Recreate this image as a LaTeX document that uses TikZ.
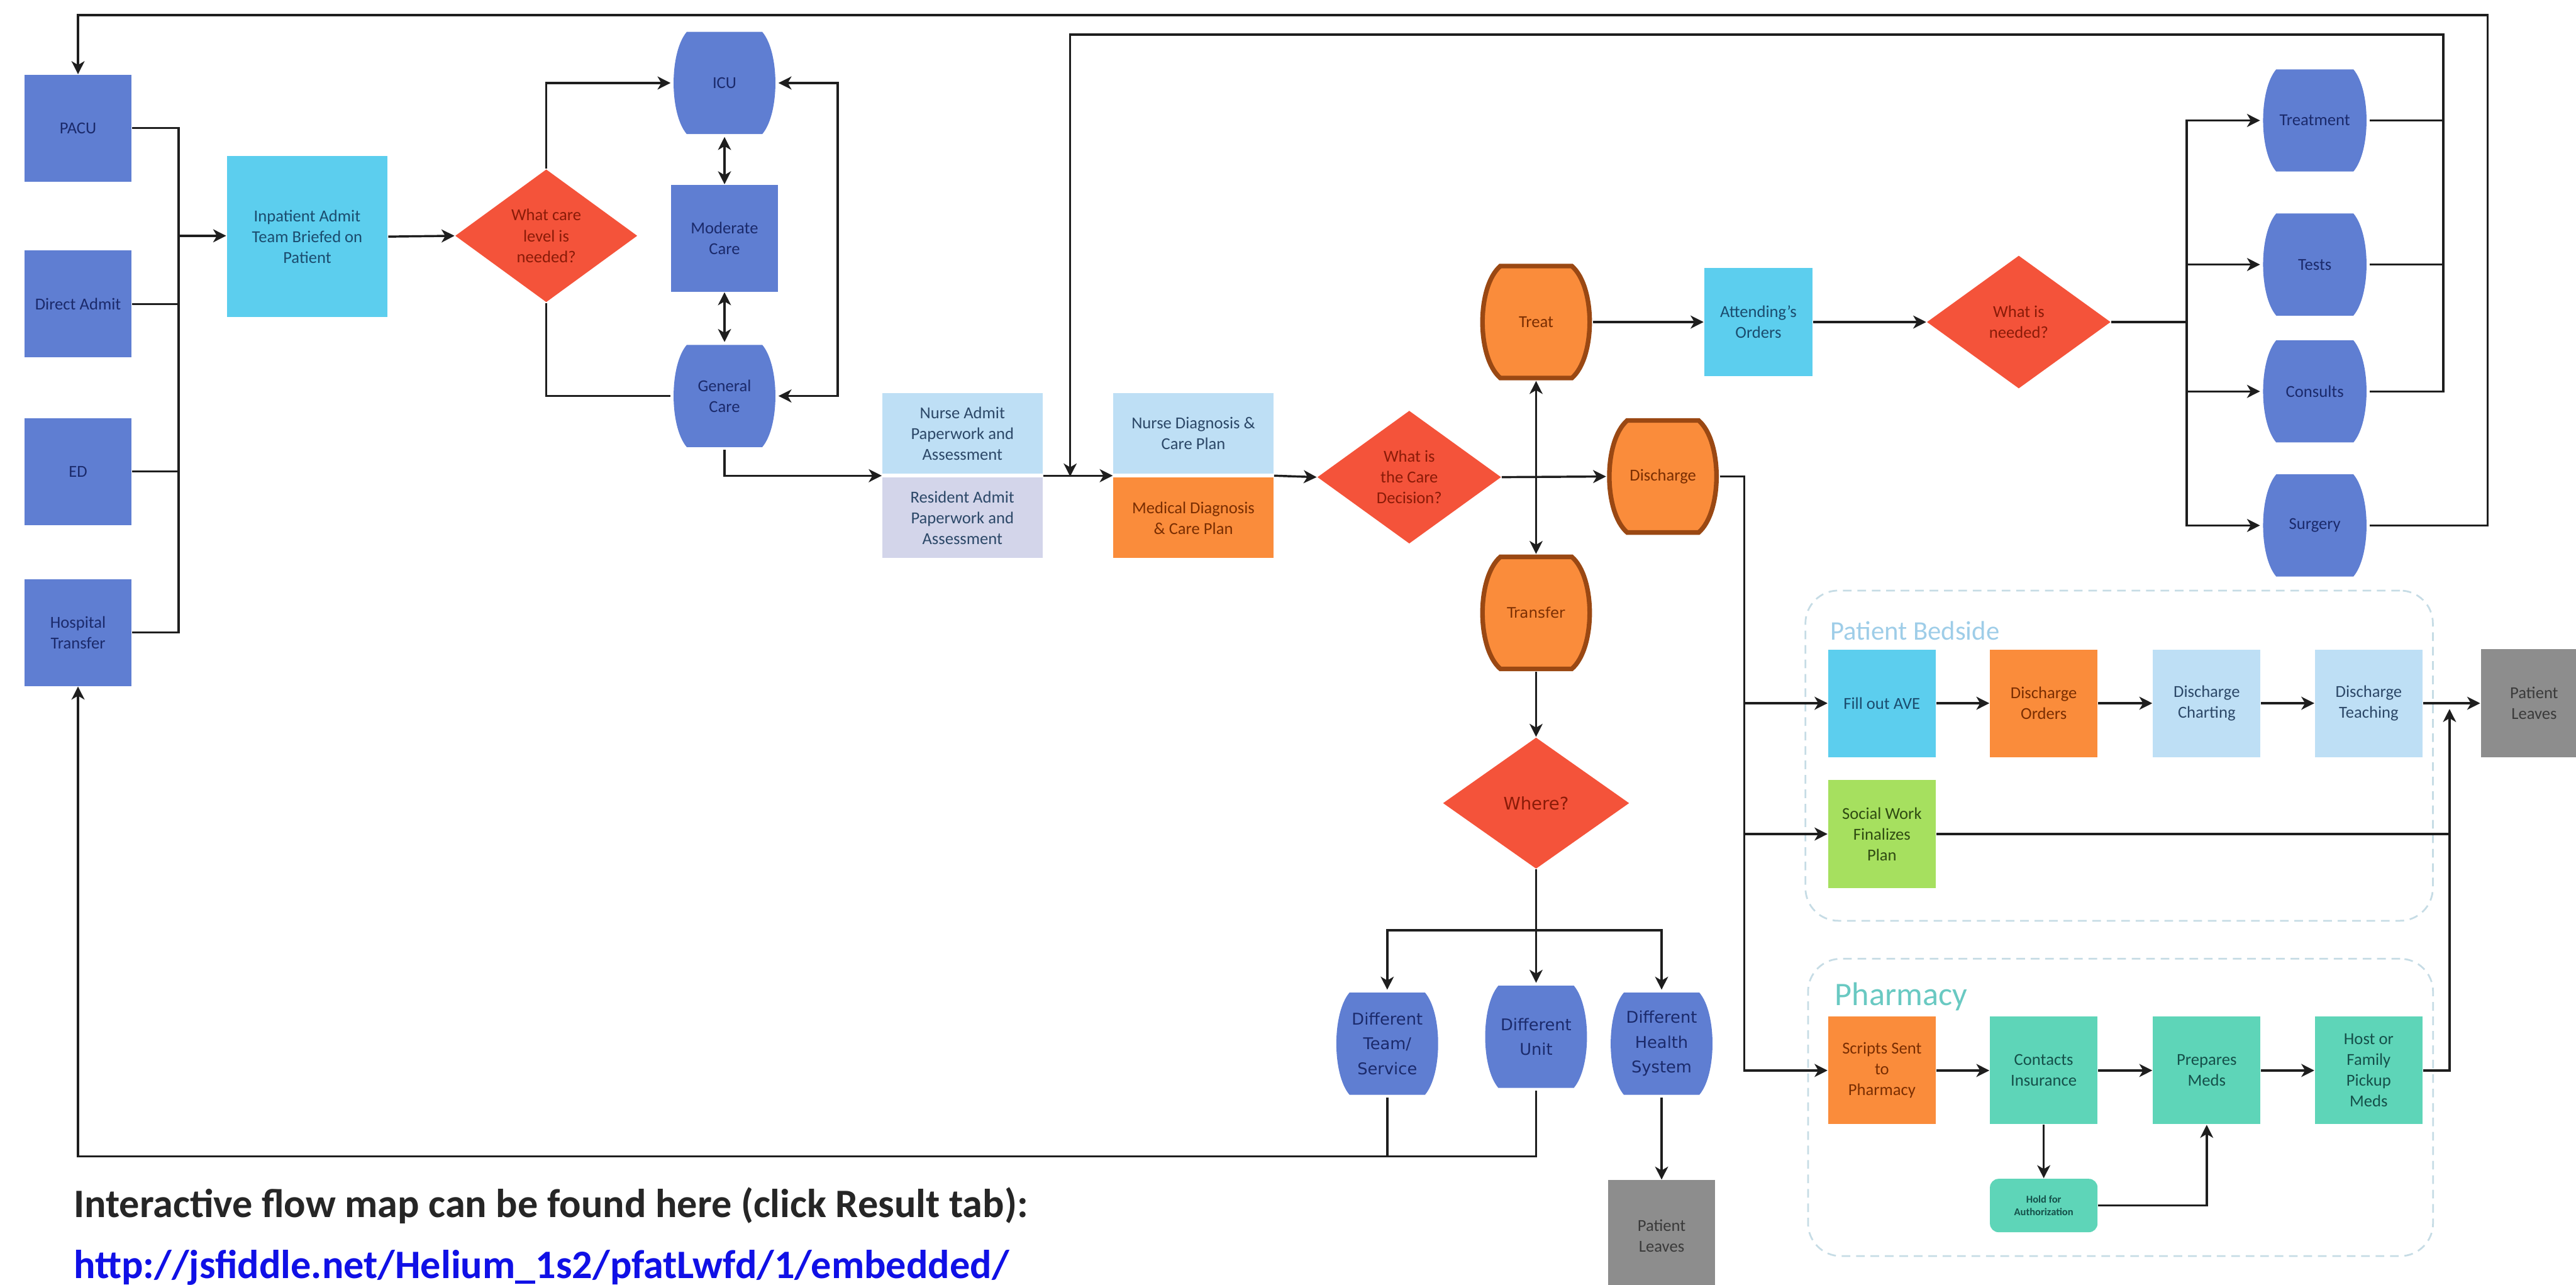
\documentclass[tikz,border=0pt]{standalone}
\usepackage{fontspec}
\setmainfont{Carlito}
\newfontfamily\widefont{DejaVu Sans}
\usepackage{tikz}
\usetikzlibrary{arrows.meta, calc, positioning, shapes.geometric}
\definecolor{unitblue}{HTML}{5F7ED2}
\definecolor{unitnavy}{HTML}{1B2A6B}
\definecolor{briefcyan}{HTML}{5CCEEE}
\definecolor{briefink}{HTML}{1B4C6E}
\definecolor{decisionred}{HTML}{F4533A}
\definecolor{decisionink}{HTML}{8A1B08}
\definecolor{nurseblue}{HTML}{BEDFF5}
\definecolor{nurseink}{HTML}{2C4868}
\definecolor{residentgrey}{HTML}{D3D5EA}
\definecolor{orderorange}{HTML}{FA8C3B}
\definecolor{orderbrown}{HTML}{9A4813}
\definecolor{orderink}{HTML}{7A2E02}
\definecolor{socialgreen}{HTML}{A6E05F}
\definecolor{socialink}{HTML}{2F4B12}
\definecolor{pharmteal}{HTML}{5ED5B8}
\definecolor{pharmink}{HTML}{15504A}
\definecolor{leavegrey}{HTML}{8D8D8D}
\definecolor{leaveink}{HTML}{3A3A3A}
\definecolor{groupline}{HTML}{C6DCE5}
\definecolor{bedsidetitle}{HTML}{9ECDE8}
\definecolor{pharmtitle}{HTML}{69C9C2}
\definecolor{noteink}{HTML}{262626}
\definecolor{linkblue}{HTML}{1010E6}
\definecolor{wireink}{HTML}{1E1E1E}

\begin{document}
\begin{tikzpicture}[
  x=0.02cm, y=-0.02cm,
  boxtext/.style    = {align=center, inner sep=1pt, font=\fontsize{5.8}{7.2}\selectfont},
  drum/.style n args = {5}{rectangle, path picture={
      \path[fill=#1, draw=#2, line width=#3]
        ($(path picture bounding box.north west)+(#4,-0.8pt)$)
        -- ($(path picture bounding box.north east)+(-#4,-0.8pt)$)
        .. controls +(#5,-0.25cm) and +(#5,0.25cm) .. ($(path picture bounding box.south east)+(-#4,0.8pt)$)
        -- ($(path picture bounding box.south west)+(#4,0.8pt)$)
        .. controls +(-#5,0.25cm) and +(-#5,-0.25cm) .. ($(path picture bounding box.north west)+(#4,-0.8pt)$)
        -- cycle;}},
  unitbox/.style    = {boxtext, rectangle, fill=unitblue, text=unitnavy, minimum width=1.3cm, minimum height=1.3cm},
  unitdrum/.style   = {boxtext, text=unitnavy, minimum width=1.3cm, minimum height=1.3cm, drum={unitblue}{none}{0pt}{0.19cm}{0.213cm}},
  briefbox/.style   = {boxtext, fill=briefcyan, text=briefink, minimum width=1.32cm, minimum height=1.32cm},
  notebox/.style    = {boxtext, fill=nurseblue, text=nurseink, minimum width=1.95cm, minimum height=0.98cm},
  choicedrum/.style = {boxtext, text=orderink, minimum width=1.37cm, minimum height=1.42cm, drum={orderorange}{orderbrown}{1.6pt}{0.25cm}{0.29cm}},
  decision/.style   = {boxtext, diamond, fill=decisionred, text=decisionink, minimum width=2.24cm, minimum height=1.62cm, inner sep=0pt},
  stepbox/.style    = {boxtext, minimum width=1.31cm, minimum height=1.31cm},
  leavebox/.style   = {boxtext, fill=leavegrey, text=leaveink, minimum width=1.3cm, minimum height=1.32cm},
  groupframe/.style = {draw=groupline, line width=0.6pt, dash pattern=on 3pt off 2pt, rounded corners=0.4cm},
  wire/.style       = {draw=wireink, line width=0.75pt},
  arr/.style        = {wire, -{Stealth[length=4.5pt,width=4.5pt,inset=1.3pt]}},
  dblarr/.style     = {wire, {Stealth[length=4.5pt,width=4.5pt,inset=1.3pt]}-{Stealth[length=4.5pt,width=4.5pt,inset=1.3pt]}},
]
\useasboundingbox (0,0) rectangle (1568,782);
\clip (0,0) rectangle (1568,782);

% admission sources
\node[unitbox] (pacu)   at (47.5,78)  {PACU};
\node[unitbox] (direct) at (47.5,185) {Direct Admit};
\node[unitbox] (ed)     at (47.5,287) {ED};
\node[unitbox] (hosp)   at (47.5,385) {Hospital\\Transfer};
\node[briefbox, minimum width=1.96cm, minimum height=1.96cm] (brief) at (187,144) {Inpatient Admit\\Team Briefed on\\Patient};
\node[decision, minimum width=2.22cm] (carelevel) at (332.5,143.5) {What care\\level is\\needed?};
\node[unitdrum] (icu)      at (441,50.5) {ICU};
\node[unitbox]  (moderate) at (441,145)  {Moderate\\Care};
\node[unitdrum] (general)  at (441,241)  {General\\Care};

% paperwork and diagnosis
\node[notebox] (nurseadmit) at (585.8,263.8) {Nurse Admit\\Paperwork and\\Assessment};
\node[notebox, fill=residentgrey] (resident) at (585.8,315.2) {Resident Admit\\Paperwork and\\Assessment};
\node[notebox] (nursediag) at (726.4,263.8) {Nurse Diagnosis \&\\Care Plan};
\node[notebox, fill=orderorange, text=orderink] (meddiag) at (726.4,315.2) {Medical Diagnosis\\\& Care Plan};
\node[decision] (caredecision) at (857.8,290.4) {What is\\the Care\\Decision?};

% care decision
\node[choicedrum] (treat)     at (935,196)    {Treat};
\node[choicedrum] (discharge) at (1012.2,290) {Discharge};
\node[choicedrum, font=\widefont\fontsize{5}{6}\selectfont] (transfer) at (935,373) {Transfer};
\node[briefbox] (attending) at (1070.3,196) {Attending’s\\Orders};
\node[decision] (needed) at (1228.8,196) {What is\\needed?};
\node[unitdrum, minimum width=1.32cm] (treatment) at (1409,73.3)  {Treatment};
\node[unitdrum, minimum width=1.32cm] (tests)     at (1409,161)   {Tests};
\node[unitdrum, minimum width=1.32cm] (consults)  at (1409,238.2) {Consults};
\node[unitdrum, minimum width=1.32cm] (surgery)   at (1409,319.8) {Surgery};

% transfer
\node[decision, minimum width=2.27cm, minimum height=1.6cm, font=\widefont\fontsize{6}{7}\selectfont] (where) at (935,488.8) {Where?};
\node[unitdrum, font=\widefont\fontsize{5.6}{8.6}\selectfont] (team)   at (844.4,635.2) {Different\\Team/\\Service};
\node[unitdrum, font=\widefont\fontsize{5.6}{8.6}\selectfont] (unit)   at (935,631)     {Different\\Unit};
\node[unitdrum, font=\widefont\fontsize{5.6}{8.6}\selectfont] (system) at (1011.4,635.2) {Different\\Health\\System};
\node[leavebox, minimum height=1.36cm] (leavesB) at (1011.4,752.3) {Patient\\Leaves};

% patient bedside
\node[groupframe, minimum width=7.64cm, minimum height=4.02cm] (bedside) at (1289.9,459.9) {};
\node[anchor=base west, inner sep=0pt, text=bedsidetitle, font=\fontsize{9.3}{11}\selectfont] (bedsidelabel) at (1113.7,389.5) {Patient Bedside};
\node[stepbox, fill=briefcyan, text=briefink]   (ave)      at (1145.5,428)   {Fill out AVE};
\node[stepbox, fill=orderorange, text=orderink] (dorders)  at (1244,428)     {Discharge\\Orders};
\node[stepbox, fill=nurseblue, text=nurseink]   (charting) at (1343.2,428)   {Discharge\\Charting};
\node[stepbox, fill=nurseblue, text=nurseink]   (teaching) at (1441.8,428)   {Discharge\\Teaching};
\node[leavebox] (leavesA) at (1542.5,428) {Patient\\Leaves};
\node[stepbox, fill=socialgreen, text=socialink] (social)  at (1145.5,507.6) {Social Work\\Finalizes\\Plan};

% pharmacy
\node[groupframe, minimum width=7.61cm, minimum height=3.62cm] (pharmacy) at (1290.75,674) {};
\node[anchor=base west, inner sep=0pt, text=pharmtitle, font=\fontsize{11.4}{13}\selectfont] (pharmacylabel) at (1116.5,612) {Pharmacy};
\node[stepbox, fill=orderorange, text=orderink] (scripts)  at (1145.5,651.5) {Scripts Sent\\to\\Pharmacy};
\node[stepbox, fill=pharmteal, text=pharmink]   (contacts) at (1244,651.5)   {Contacts\\Insurance};
\node[stepbox, fill=pharmteal, text=pharmink]   (prepares) at (1343.2,651.5) {Prepares\\Meds};
\node[stepbox, fill=pharmteal, text=pharmink]   (pickup)   at (1441.8,651.5) {Host or\\Family\\Pickup\\Meds};
\node[stepbox, fill=pharmteal, text=pharmink, minimum height=0.65cm, rounded corners=3pt, font=\bfseries\fontsize{3.6}{4.4}\selectfont] (hold) at (1244,733.7) {Hold for\\Authorization};

% note
\node[anchor=base west, inner sep=0pt, text=noteink, font=\bfseries\fontsize{14}{16}\selectfont] (note) at (44.5,741) {Interactive flow map can be found here (click Result tab):};
\node[anchor=base west, inner sep=0pt, text=linkblue, font=\bfseries\fontsize{14}{16}\selectfont] (link) at (44.5,778) {http://jsfiddle.net/Helium\_1s2/pfatLwfd/1/embedded/};

% admission
\coordinate (bus) at (108.7,143.5);
\draw[wire] (pacu.east) -| (bus);
\draw[wire] (direct.east) -| (bus);
\draw[wire] (ed.east) -| (bus);
\draw[wire] (hosp.east) -| (bus);
\draw[arr] (bus) -- (bus -| brief.west);
\draw[arr] (brief.east) -- (carelevel.west);
\draw[arr] (carelevel.north) |- (icu.west);
\draw[wire] (carelevel.south) |- (general.west);
\draw[dblarr] (icu.south) -- (moderate.north);
\draw[dblarr] (moderate.south) -- (general.north);
\draw[dblarr] (icu.east) -- ++(36,0) |- (general.east);

% paperwork
\coordinate (admitjoin) at ($(nurseadmit.south west)!0.5!(resident.north west)$);
\coordinate (admitout)  at ($(nurseadmit.south east)!0.5!(resident.north east)$);
\coordinate (diagjoin)  at ($(nursediag.south west)!0.5!(meddiag.north west)$);
\coordinate (diagout)   at ($(nursediag.south east)!0.5!(meddiag.north east)$);
\draw[arr] (general.south) |- (admitjoin);
\draw[arr] (admitout) -- (diagjoin);
\draw[arr] (diagout) -- (caredecision.west);

% decision
\draw[arr] (caredecision.east) -- (discharge.west);
\draw[dblarr] (treat.south) -- (transfer.north);
\draw[arr] (treat.east) -- (attending.west);
\draw[arr] (attending.east) -- (needed.west);
\coordinate (needsplit) at (1331.1,196);
\draw[wire] (needed.east) -- (needsplit);
\draw[arr] (needsplit) |- (treatment.west);
\draw[arr] (needsplit) |- (tests.west);
\draw[arr] (needsplit) |- (consults.west);
\draw[arr] (needsplit) |- (surgery.west);
\coordinate (reentry) at (651.4,290);
\coordinate (needmerge) at (1487.2,21);
\draw[arr] (treatment.east) -| (needmerge) -| (reentry);
\draw[wire] (tests.east) -| (needmerge);
\draw[wire] (consults.east) -| (needmerge);
\coordinate (readmit) at (1514.2,9.1);
\draw[arr] (surgery.east) -| (readmit) -| (pacu.north);

% discharge
\coordinate (dbus) at (1061.8,651.5);
\draw[arr] (discharge.east) -| (dbus) -- (scripts.west);
\draw[arr] (ave.west -| dbus) -- (ave.west);
\draw[arr] (social.west -| dbus) -- (social.west);
\draw[arr] (ave.east) -- (dorders.west);
\draw[arr] (dorders.east) -- (charting.west);
\draw[arr] (charting.east) -- (teaching.west);
\draw[arr] (teaching.east) -- (leavesA.west);
\coordinate (leavejoin) at (1491,431.5);
\draw[arr] (pickup.east) -| (leavejoin);
\draw[wire] (social.east) -- (social.east -| leavejoin);
\draw[arr] (scripts.east) -- (contacts.west);
\draw[arr] (contacts.east) -- (prepares.west);
\draw[arr] (prepares.east) -- (pickup.west);
\draw[arr] (contacts.south) -- (hold.north);
\draw[arr] (hold.east) -| (prepares.south);

% transfer
\draw[arr] (transfer.south) -- (where.north);
\coordinate (wsplit) at (935,566.2);
\draw[wire] (where.south) -- (wsplit);
\draw[arr] (wsplit) -| (team.north);
\draw[arr] (wsplit) -- (unit.north);
\draw[arr] (wsplit) -| (system.north);
\draw[arr] (system.south) -- (leavesB.north);
\coordinate (sendback) at (47.5,703.7);
\draw[arr] (unit.south) |- (sendback) -- (hosp.south);
\draw[wire] (team.south) -- (team.south |- sendback);
\end{tikzpicture}
\end{document}
